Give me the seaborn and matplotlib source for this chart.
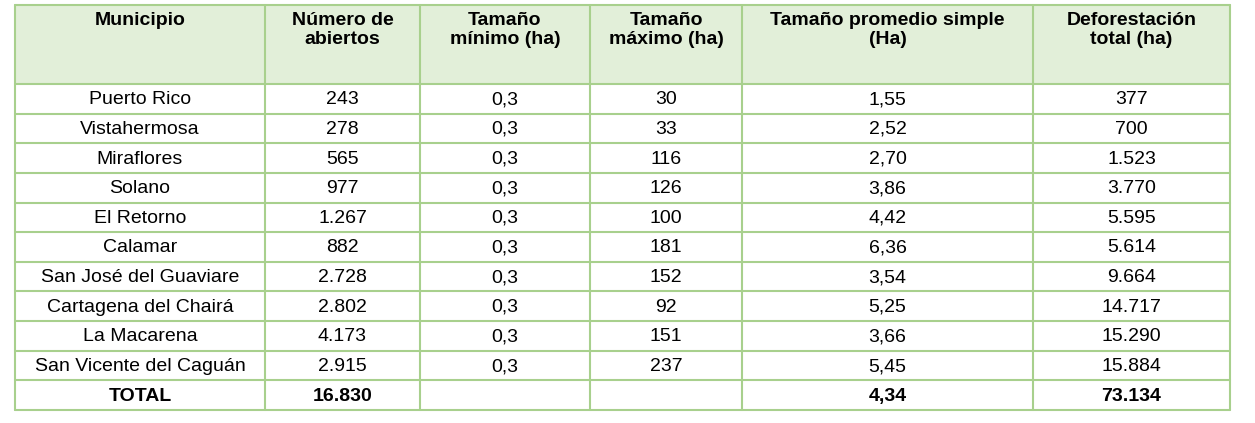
import matplotlib
matplotlib.use("Agg")
import matplotlib.pyplot as plt
import seaborn as sns
from matplotlib.patches import Rectangle

sns.set_theme(style="white")
plt.rcParams['font.family'] = ['Liberation Sans', 'DejaVu Sans']

headers = ["Municipio", "Número de\nabiertos", "Tamaño\nmínimo (ha)", "Tamaño\nmáximo (ha)",
           "Tamaño promedio simple\n(Ha)", "Deforestación\ntotal (ha)"]
municipios = ["Puerto Rico", "Vistahermosa", "Miraflores", "Solano", "El Retorno", "Calamar",
              "San José del Guaviare", "Cartagena del Chairá", "La Macarena", "San Vicente del Caguán"]
abiertos = ["243", "278", "565", "977", "1.267", "882", "2.728", "2.802", "4.173", "2.915"]
minimo = ["0,3"] * 10
maximo = ["30", "33", "116", "126", "100", "181", "152", "92", "151", "237"]
promedio = ["1,55", "2,52", "2,70", "3,86", "4,42", "6,36", "3,54", "5,25", "3,66", "5,45"]
deforest = ["377", "700", "1.523", "3.770", "5.595", "5.614", "9.664", "14.717", "15.290", "15.884"]
total_row = ["TOTAL", "16.830", "", "", "4,34", "73.134"]

W, H = 1255, 423
fig = plt.figure(figsize=(W/100, H/100), dpi=100)
ax = fig.add_axes([0, 0, 1, 1])
ax.set_xlim(0, W)
ax.set_ylim(H, 0)
ax.axis("off")

cols = [15, 265, 420, 590, 742, 1033, 1230]
head_top, head_bot = 5, 84
n = 11
row_h = (410 - head_bot) / n
green = "#a8d08d"
fill = "#e2efd9"

ax.add_patch(Rectangle((cols[0], head_top), cols[-1]-cols[0], head_bot-head_top, facecolor=fill, edgecolor="none"))
for j, h in enumerate(headers):
    ax.text((cols[j]+cols[j+1])/2, head_top+7, h, ha="center", va="top", fontsize=14,
            fontweight="bold", linespacing=1.15, color="black")

rows = [list(r) for r in zip(municipios, abiertos, minimo, maximo, promedio, deforest)] + [total_row]
for i, r in enumerate(rows):
    yc = head_bot + row_h*(i+0.5) + 1
    for j, v in enumerate(r):
        ax.text((cols[j]+cols[j+1])/2, yc, v, ha="center", va="center", fontsize=14,
                fontweight="bold" if i == n-1 else "normal", color="black")

bottom = head_bot + row_h*n
for x in cols:
    ax.plot([x, x], [head_top, bottom], color=green, lw=1.5)
ax.plot([cols[0], cols[-1]], [head_top, head_top], color=green, lw=1.5)
for i in range(n+1):
    y = head_bot + row_h*i
    ax.plot([cols[0], cols[-1]], [y, y], color=green, lw=1.5)

fig.savefig("out.png", dpi=100, facecolor="white")
